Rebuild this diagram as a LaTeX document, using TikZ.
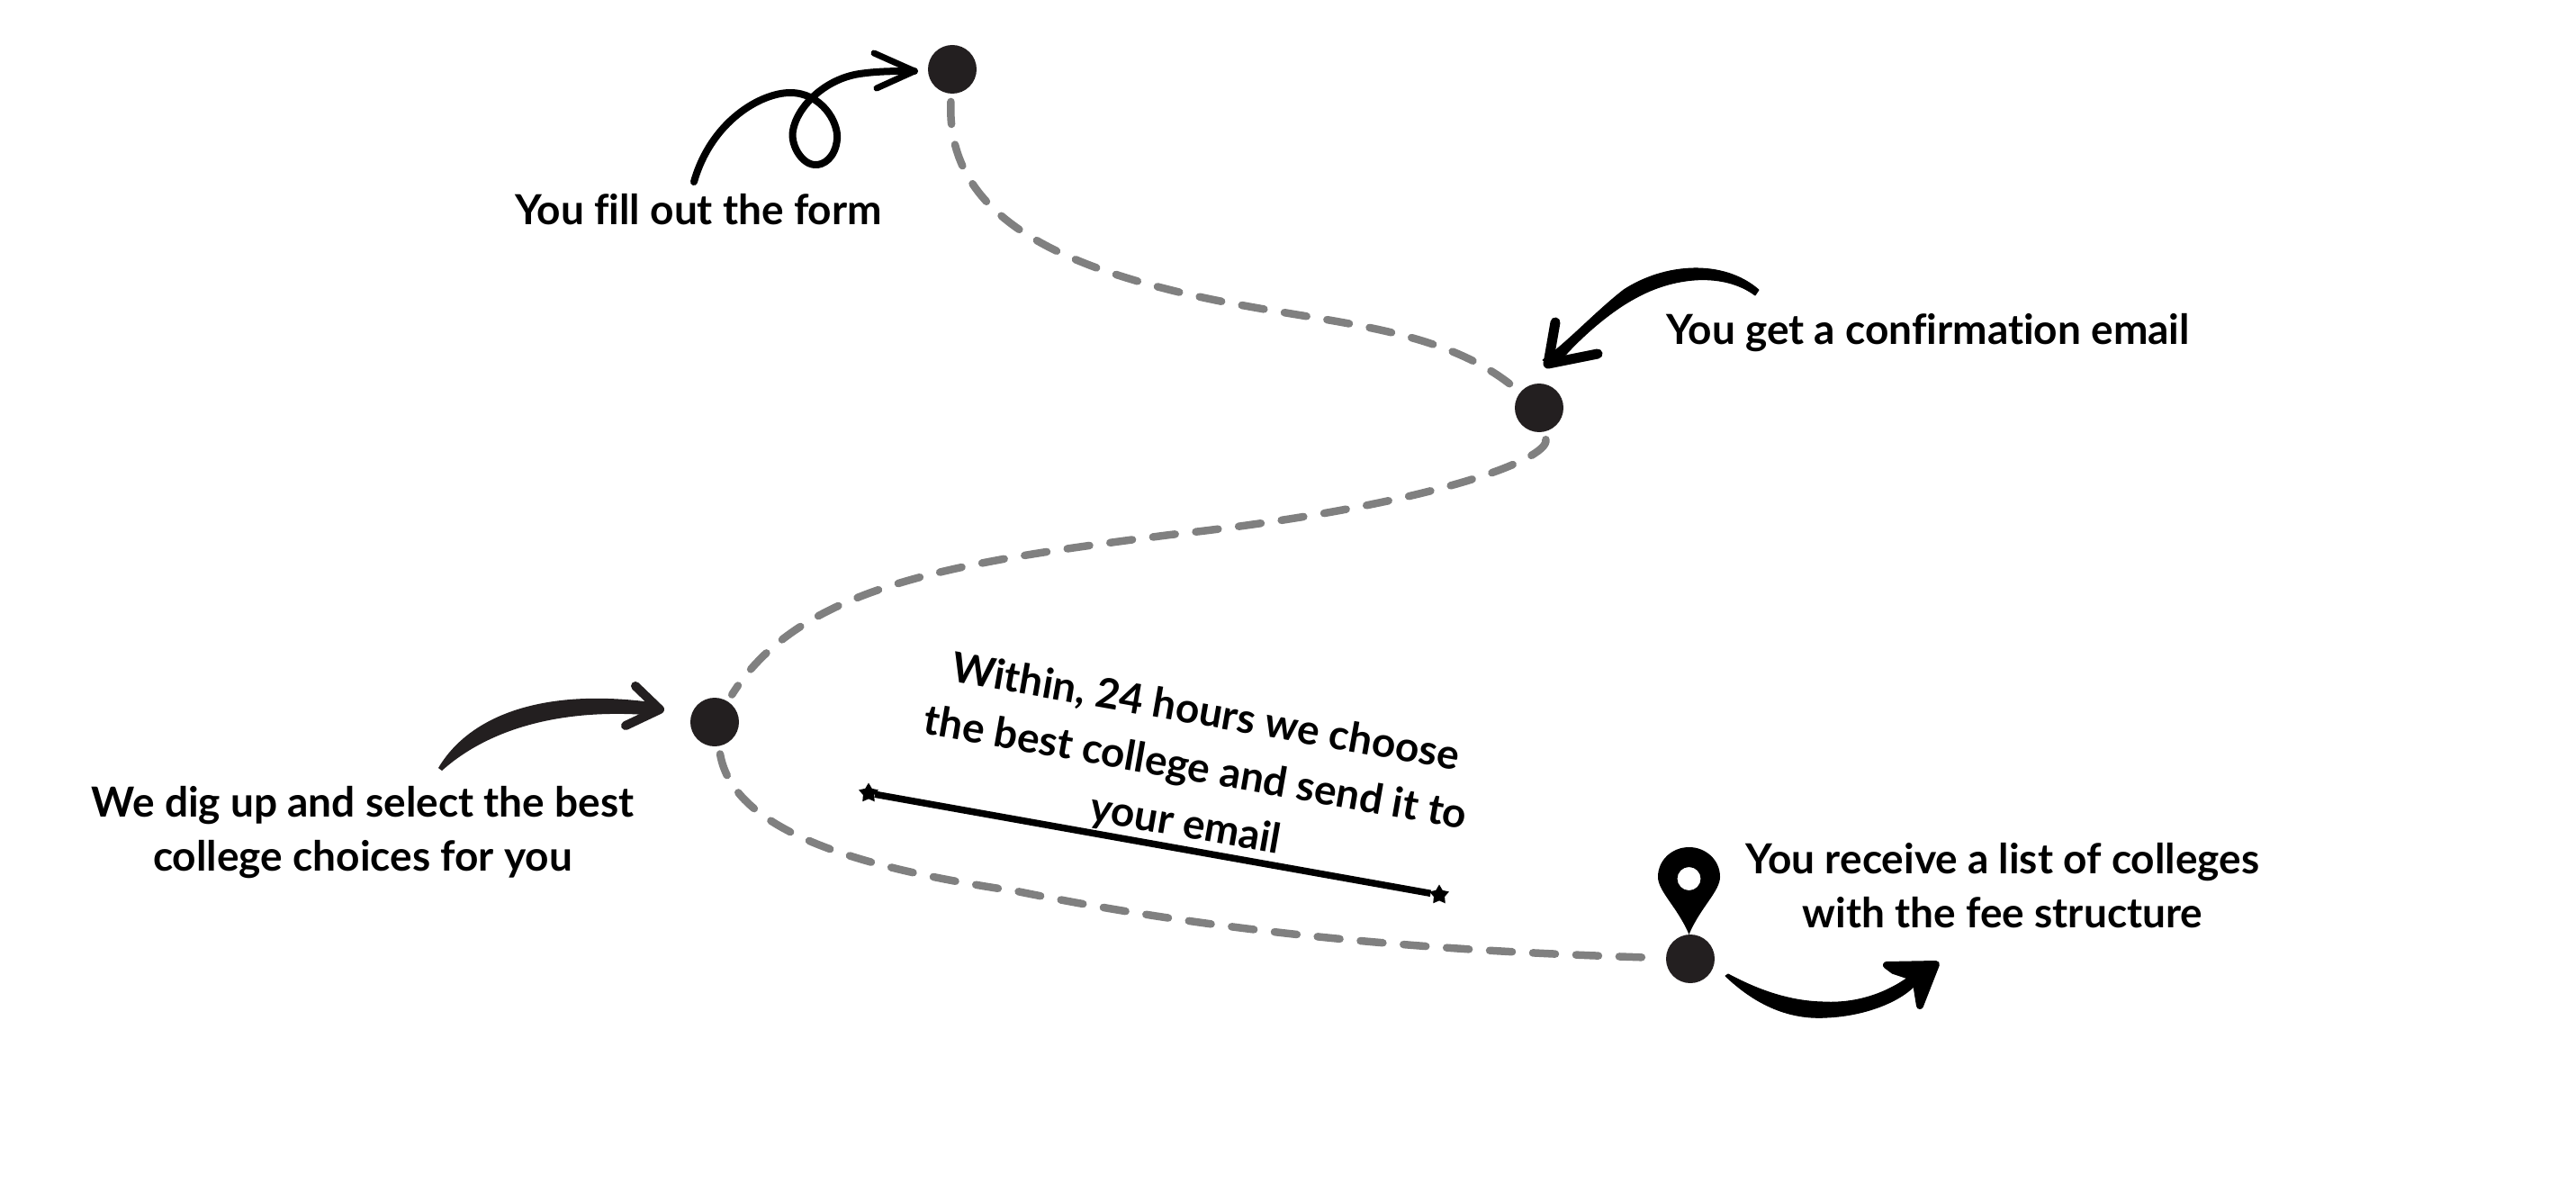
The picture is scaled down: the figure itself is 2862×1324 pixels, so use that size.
\documentclass[tikz,border=0pt]{standalone}
\usepackage{fontspec}
\setmainfont{Lato}[BoldFont=* Bold,Ligatures=NoCommon]
\usetikzlibrary{shapes.geometric}
\tikzset{
  x=1pt,y=-1pt,
  dot/.style={circle,fill=dotc,minimum size=54pt,inner sep=0pt,outer sep=9pt},
  route/.style={draw=routec,line width=8.5pt,line cap=round,dash pattern=on 25pt off 23pt},
  txt/.style={font=\fontsize{46}{60}\selectfont\bfseries,align=center,inner sep=0pt,text=black},
  pen/.style={draw=black,line width=8pt,line cap=round,line join=round},
  brush/.style={fill=black,draw=black,line width=1pt,line join=round},
  penk/.style={draw=dotc,line width=10pt,line cap=round,line join=round},
  endstar/.style={star,star points=5,star point ratio=1.8,fill=black,minimum size=23pt,inner sep=0pt}
}
\definecolor{dotc}{HTML}{231F20}
\definecolor{routec}{HTML}{808080}
\begin{document}
\begin{tikzpicture}
\useasboundingbox (0,0) rectangle (2862,1324);
% stations
\node[dot] (d1) at (1058,77) {};
\node[dot] (d2) at (1710,453) {};
\node[dot] (d3) at (794,802) {};
\node[dot] (d4) at (1878,1065) {};
% route
\coordinate (m1) at (1300,322);
\coordinate (m2) at (1300,594);
\coordinate (m3) at (1130,990);
\draw[route] (d1) .. controls (1052,215) and (1130,280) .. (m1)
   .. controls (1450,360) and (1590,355) .. (d2);
\draw[route] (d2) .. controls (1722,510) and (1590,562) .. (m2)
   .. controls (1060,625) and (890,650) .. (d3);
\draw[route] (d3) .. controls (815,925) and (960,965) .. (m3)
   .. controls (1400,1045) and (1650,1058) .. (d4);
% labels
\node[txt] (t1) at (776,233) {You fill out the form};
\node[txt] (t2) at (2142,370) {You get a confirmation email};
\node[txt] (t3) at (403,925) {We dig up and select the best\\college choices for you};
\node[txt] (t4) at (2225,984) {You receive a list of colleges\\with the fee structure};
\node[txt,font=\fontsize{46}{63}\selectfont\bfseries,rotate=-10] (t5) at (1328,855) {Within, 24 hours we choose\\the best college and send it to\\your email};
% bar
\node[endstar] (s1) at (965,881) {};
\node[endstar] (s2) at (1599,994) {};
\draw[black,line width=7.5pt] (s1) -- (s2);
% arrow 1
\coordinate (a1s) at (771,202);
\coordinate (a1t) at (1016,79);
\draw[pen] (a1s) .. controls (790,135) and (845,103) .. (878,103)
   .. controls (912,103) and (932,135) .. (930,155)
   .. controls (928,175) and (915,184) .. (905,183)
   .. controls (890,182) and (878,160) .. (881,145)
   .. controls (885,120) and (915,88) .. (955,82)
   .. controls (975,79) and (995,79) .. (a1t);
\draw[pen,line width=7pt] (971,59) -- (a1t) -- (974,98);
% arrow 2
\coordinate (a2s) at (1954,322);
\coordinate (a2t) at (1720,404);
\fill[brush] (a2s) .. controls (1915,288) and (1850,292) .. (1804,322)
   .. controls (1772,347) and (1742,380) .. (1714,400)
   -- (1729,406) .. controls (1752,378) and (1787,347) .. (1817,331)
   .. controls (1860,307) and (1915,302) .. (1950,328) -- cycle;
\draw[pen,line width=11pt] (1728,358) -- (a2t) -- (1775,393);
% arrow 3
\coordinate (a3s) at (491,856);
\coordinate (a3t) at (733,788);
\fill[dotc] (487,853) .. controls (520,797) and (600,762) .. (731,781)
   -- (730,795) .. controls (620,785) and (540,812) .. (a3s) -- cycle;
\draw[penk] (706,762) -- (a3t) -- (695,806);
% arrow 4
\coordinate (a4s) at (1920,1082);
\coordinate (a4t) at (2151,1071);
\fill[brush] (1917,1084) .. controls (1960,1125) and (2000,1132) .. (2030,1130)
   .. controls (2075,1128) and (2120,1110) .. (2135,1085)
   -- (2125,1082) .. controls (2095,1105) and (2060,1115) .. (2025,1113)
   .. controls (1985,1112) and (1950,1098) .. (a4s) -- cycle;
\fill[brush,line width=8pt] (2096,1072) -- (a4t) -- (2133,1117) -- (2128,1086) -- (2104,1078) -- cycle;
% pin
\fill[black,even odd rule] (1876.5,1038) .. controls (1864,1008) and (1842,990) .. (1842,974)
   .. controls (1842,955) and (1858,941) .. (1876.5,941)
   .. controls (1895,941) and (1911,955) .. (1911,974)
   .. controls (1911,990) and (1889,1008) .. (1876.5,1038) -- cycle
   (1876.5,976) circle[radius=13pt];
\end{tikzpicture}
\end{document}
